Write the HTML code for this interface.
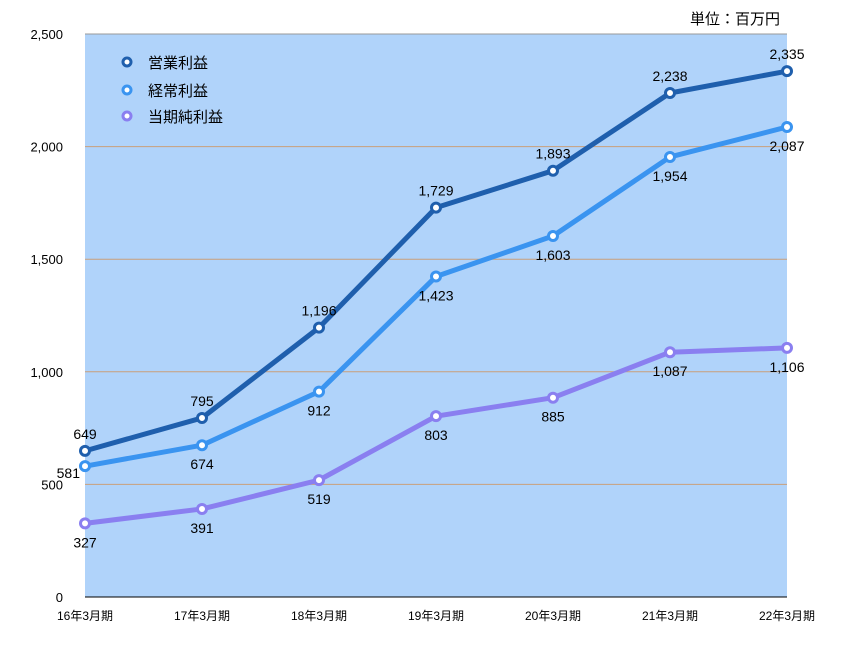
<!DOCTYPE html>
<html><head><meta charset="utf-8"><style>
body{margin:0;background:#fff;}
svg{font-family:"Liberation Sans","Noto Sans CJK JP",sans-serif;}
</style></head><body>
<svg width="850" height="650">
<rect x="85" y="34" width="702" height="563" fill="#b0d3fa"/>
<g id="grid"></g><g id="axes"></g><g id="series"></g>
<text x="780" y="24" font-size="15" text-anchor="end">単位：百万円</text>
<g font-size="15">
<g><circle cx="127" cy="62" r="4" fill="#fff" stroke="#1f5fad" stroke-width="3"/><text x="148" y="68">営業利益</text></g>
<g><circle cx="127" cy="90" r="4" fill="#fff" stroke="#3a94f0" stroke-width="3"/><text x="148" y="96">経常利益</text></g>
<g><circle cx="127" cy="116" r="4" fill="#fff" stroke="#8a7ff0" stroke-width="3"/><text x="148" y="122">当期純利益</text></g>
</g>
</svg>
<script>
const categories=["16年3月期","17年3月期","18年3月期","19年3月期","20年3月期","21年3月期","22年3月期"];
const operating=[649,795,1196,1729,1893,2238,2335];
const ordinary=[581,674,912,1423,1603,1954,2087];
const net=[327,391,519,803,885,1087,1106];
const yTicks=[0,500,1000,1500,2000,2500];
const NS="http://www.w3.org/2000/svg";
const X=i=>85+i*117, Y=v=>597-v*563/2500;
function mk(t,a,p,txt){const e=document.createElementNS(NS,t);for(const k in a)e.setAttribute(k,a[k]);if(txt!=null)e.textContent=txt;p.appendChild(e);return e;}
const fmt=v=>v.toLocaleString('en-US');
const grid=document.getElementById('grid'),axes=document.getElementById('axes'),ser=document.getElementById('series');
yTicks.forEach(v=>{
 if(v>0){const l=mk('line',{x1:85,x2:787,y1:Y(v),y2:Y(v),stroke:v==2500?'#999':'#c9a07a','stroke-width':1},grid);
 }
 const t=mk('text',{x:63,y:Y(v)+5,'font-size':13,'text-anchor':'end'},axes,fmt(v));
 
});
const ax=mk('line',{x1:85,x2:787,y1:597,y2:597,stroke:'#000'},axes);

categories.forEach((c,i)=>{const t=mk('text',{x:X(i),y:620,'font-size':12,'text-anchor':'middle'},axes,c);
 });
function draw(d,color,name,dy){
 const g=mk('g',{},ser);
 const p=mk('polyline',{points:d.map((v,i)=>X(i)+','+Y(v)).join(' '),fill:'none',stroke:color,'stroke-width':5,'stroke-linejoin':'round'},g);
 
 d.forEach((v,i)=>{const c=mk('circle',{cx:X(i),cy:Y(v),r:4.5,fill:'#fff',stroke:color,'stroke-width':3},g);
  
  let tx=X(i),ty=Y(v)+dy;
  if(name=='ordinary'&&i==0){tx=80;ty=Y(v)+12;}
  const t=mk('text',{x:tx,y:ty,'font-size':14,'text-anchor':(name=='ordinary'&&i==0)?'end':'middle'},g,fmt(v));
  });
}
draw(net,'#8a7ff0','net',24);
draw(ordinary,'#3a94f0','ordinary',24);
draw(operating,'#1f5fad','operating',-12);
</script>
</body></html>
